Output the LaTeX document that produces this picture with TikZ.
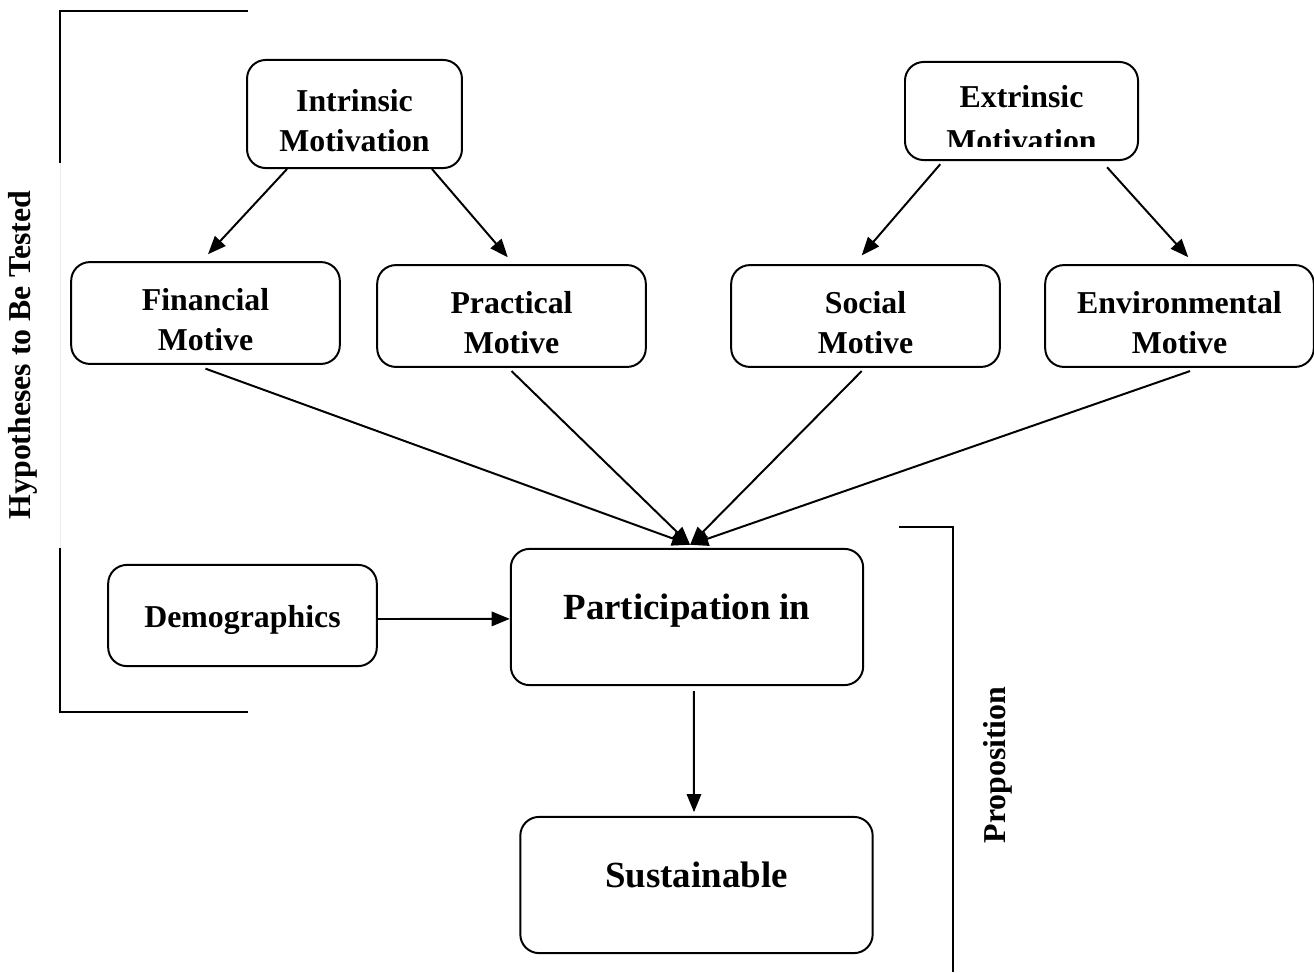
\documentclass[tikz,border=0pt]{standalone}
\usepackage{fontspec}
\setmainfont{Liberation Serif}
\usepackage{tikz}
\usetikzlibrary{arrows.meta}

\begin{document}
\begin{tikzpicture}[x=0.016cm, y=-0.016cm, line width=0.9pt, >={Triangle[length=2.9mm,width=2.3mm]},
  main/.style = {draw, rounded corners=0.3cm, align=center, inner sep=0pt, minimum width=4.3cm, minimum height=1.63cm, font=\bfseries\fontsize{14.5}{18.2}\selectfont, execute at begin node={\rule{0pt}{14.5pt}}},
  pair/.style = {main, execute at begin node={\rule{0pt}{34pt}}},
  big/.style = {main, minimum width=5.64cm, minimum height=2.18cm, text height=10pt, text depth=8pt, font=\bfseries\fontsize{16.8}{20}\selectfont},
  side/.style = {rotate=90, inner sep=0pt, font=\bfseries\fontsize{14.5}{18.2}\selectfont}]
\useasboundingbox (0,0) rectangle (1314,972);
\node[pair, minimum width=3.44cm, minimum height=1.73cm] (intr) at (354.5,114) {Intrinsic\\Motivation};
\node[main, minimum width=3.73cm, minimum height=1.57cm] (extr) at (1021.5,111) {};
\begin{scope}
\clip (905,62) rectangle (1138,146);
\node[pair, draw=none] (extxt) at (1021.5,114) {Extrinsic\\[1.8pt]Motivation};
\end{scope}
\node[pair] (fin) at (205.5,313) {Financial\\Motive};
\node[pair] (prac) at (511.5,316) {Practical\\Motive};
\node[pair] (soc) at (865.5,316) {Social\\Motive};
\node[pair] (env) at (1179.5,316) {Environmental\\Motive};
\node[main, minimum height=1.62cm] (demo) at (242.5,615.5) {Demographics};
\node[big] (part) at (687,617) {Participation in};
\node[big] (sust) at (696.5,885) {Sustainable};
\node[side] (hyp) at (23,355) {Hypotheses to Be Tested};
\node[side] (prop) at (998,765) {Proposition};
% brackets
\draw (248,11) -- (60,11) -- (60,163);
\draw[black!8, line width=0.4pt] (60,163) -- (60,548);
\draw (60,548) -- (60,712) -- (248,712);
\draw (899,527) -- (953,527) -- (953,972);
\draw[->] ([xshift=-1.08cm]intr.south) -- ([xshift=0.04cm,yshift=0.11cm]fin.north);
\draw[->] ([xshift=1.24cm]intr.south) -- ([xshift=-0.06cm,yshift=0.11cm]prac.north);
\draw[->] ([xshift=-1.30cm,yshift=-0.05cm]extr.south) -- ([xshift=-0.06cm,yshift=0.14cm]soc.north);
\draw[->] ([xshift=1.37cm,yshift=-0.1cm]extr.south) -- ([xshift=0.14cm,yshift=0.11cm]env.north);
\draw[->] ([yshift=-0.06cm]fin.south) -- ([xshift=0.05cm,yshift=0.05cm]part.north);
\draw[->] ([yshift=-0.05cm]prac.south) -- ([xshift=0.05cm,yshift=0.05cm]part.north);
\draw[->] ([xshift=-0.06cm,yshift=-0.05cm]soc.south) -- ([xshift=0.05cm,yshift=0.05cm]part.north);
\draw[->] ([xshift=0.17cm,yshift=-0.05cm]env.south) -- ([xshift=0.05cm,yshift=0.05cm]part.north);
\draw[->] ([yshift=-0.056cm]demo.east) -- ([yshift=-0.03cm]part.west);
\draw[->] ([xshift=0.11cm,yshift=-0.08cm]part.south) -- ([xshift=-0.04cm,yshift=0.06cm]sust.north);
\end{tikzpicture}
\end{document}
